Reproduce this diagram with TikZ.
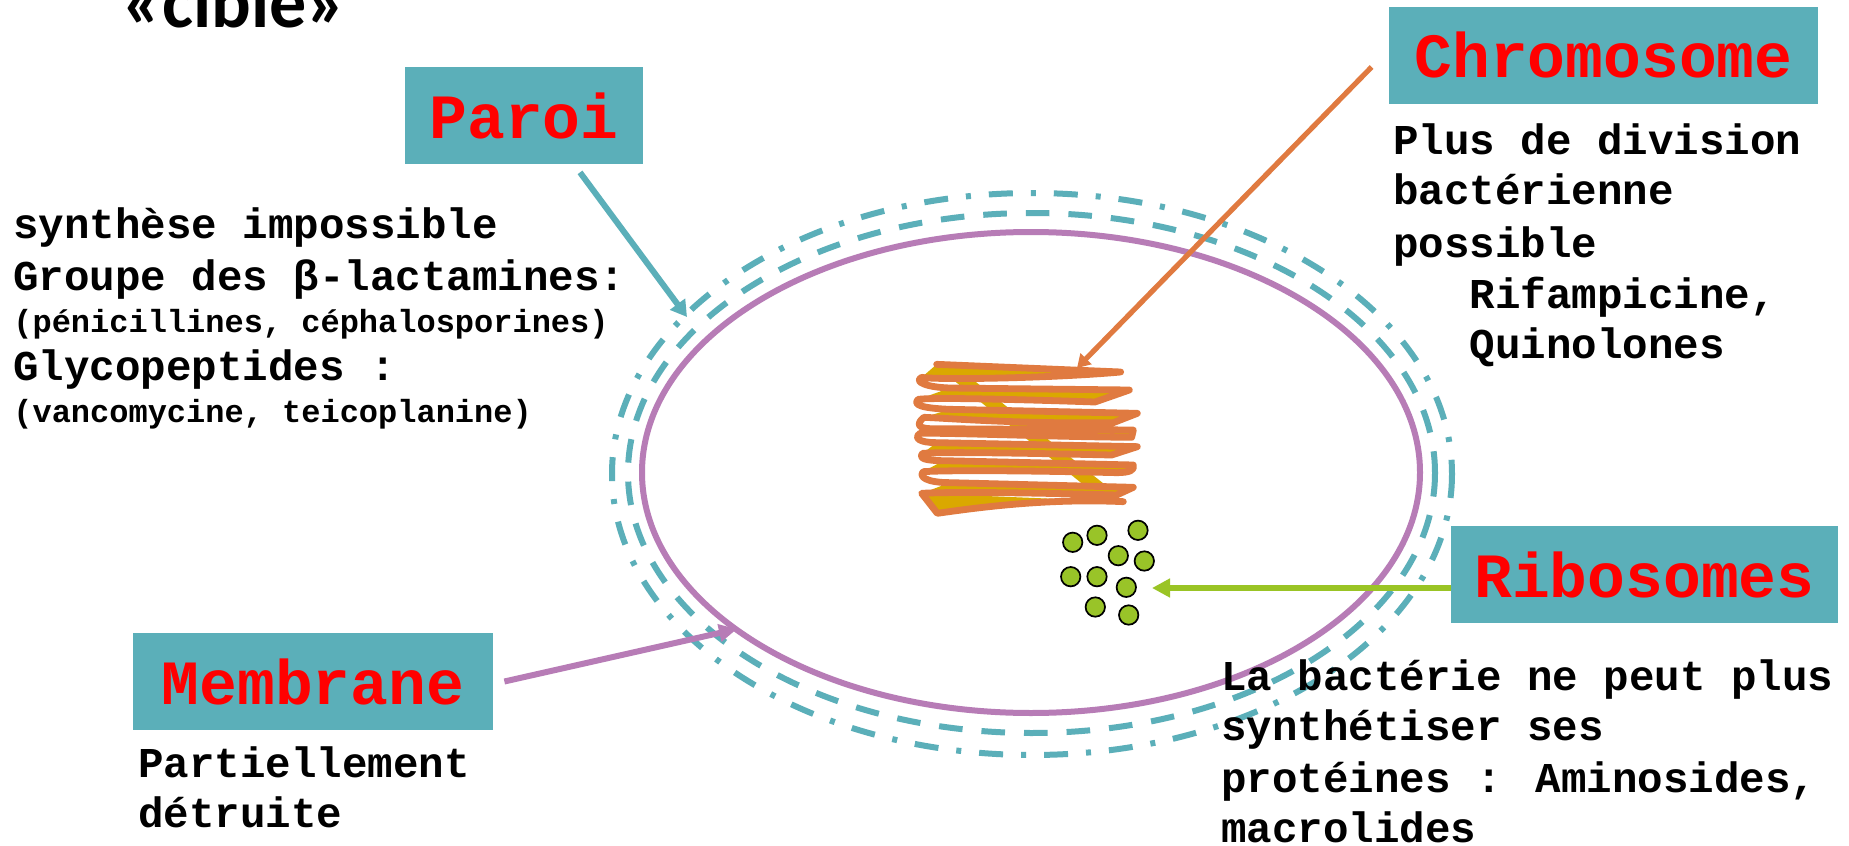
\documentclass[tikz,border=0pt]{standalone}
\usepackage{fontspec}
\usetikzlibrary{arrows.meta}
\newfontfamily\cour{Liberation Mono}
\newfontfamily\calib{Carlito}
\definecolor{teal1}{RGB}{91,175,185}
\definecolor{purp}{RGB}{183,124,182}
\definecolor{orng}{RGB}{224,122,64}
\definecolor{gold1}{RGB}{218,168,0}
\definecolor{grn}{RGB}{153,196,40}
\definecolor{grnarrow}{RGB}{154,196,37}
\begin{document}
\begin{tikzpicture}[x=0.5pt,y=-0.5pt,
  labelbox/.style={fill=teal1, text=red, font=\cour\bfseries\fontsize{31.5pt}{31.5pt}\selectfont, minimum height=48.5pt, inner sep=0pt, anchor=center},
  bodytxt/.style={font=\cour\bfseries\fontsize{21.25pt}{21.25pt}\selectfont, anchor=base west, inner sep=0pt},
  smalltxt/.style={font=\cour\bfseries\fontsize{16pt}{16pt}\selectfont, anchor=base west, inner sep=0pt},
  ribodot/.style={fill=grn, draw=black, line width=0.85pt},
  scrib/.style={draw=orng, line width=3.4pt, line join=round, line cap=round}
]
\useasboundingbox (0,0) rectangle (1849,846);
\clip (0,0) rectangle (1849,846);
\fill[white] (0,0) rectangle (1849,846);

% title (cut at top)
\node[font=\calib\bfseries\fontsize{37pt}{37pt}\selectfont, anchor=base west, inner sep=0pt] (title) at (122,27) {«cible»};

% cell envelopes
\draw[teal1, line width=3pt, dash pattern=on 12pt off 9pt on 2.5pt off 9pt] (1032,474) ellipse [x radius=420, y radius=281];
\draw[teal1, line width=3pt, dash pattern=on 11.8pt off 9.5pt] (1031.5,473) ellipse [x radius=403.5, y radius=260];
\draw[purp, line width=3pt] (1031,472.5) ellipse [x radius=389, y radius=240.5];

% chromosome scribble
\begin{scope}[shift={(850,300)}, scale=1/3]
  \fill[gold1] (260,193) -- (812,216) .. controls (600,235) and (260,240) .. (215,232) -- cycle;
  \fill[gold1] (300,264) -- (838,270) -- (735,306) .. controls (500,298) and (250,292) .. (205,298) -- cycle;
  \fill[gold1] (300,328) -- (862,340) -- (790,368) .. controls (500,372) and (300,355) .. (222,352) -- cycle;
  \fill[gold1] (240,386) -- (850,390) -- (845,412) .. controls (600,410) and (300,398) .. (210,400) -- cycle;
  \fill[gold1] (260,428) -- (862,440) -- (785,465) .. controls (550,460) and (300,455) .. (218,460) -- cycle;
  \fill[gold1] (280,482) -- (850,495) .. controls (855,510) and (840,518) .. (800,518) .. controls (550,512) and (300,510) .. (220,515) -- cycle;
  \fill[gold1] (300,548) -- (850,562) -- (800,585) .. controls (550,578) and (300,575) .. (215,580) -- cycle;
  \fill[gold1] (215,580) -- (262,640) .. controls (400,620) and (600,595) .. (820,605) -- cycle;
  \fill[gold1] (295,228) -- (355,228) -- (800,582) -- (735,582) -- cycle;
  \draw[scrib] (260,193) -- (812,216) .. controls (600,235) and (260,240) .. (215,232)
    .. controls (190,245) and (230,262) .. (300,264) -- (838,270) -- (735,306)
    .. controls (500,298) and (250,292) .. (205,298)
    .. controls (185,315) and (220,325) .. (300,328) -- (862,340) -- (790,368)
    .. controls (500,372) and (300,355) .. (222,352)
    .. controls (205,365) and (195,385) .. (240,386) -- (850,390) -- (845,412)
    .. controls (600,410) and (300,398) .. (210,400)
    .. controls (190,415) and (210,428) .. (260,428) -- (862,440) -- (785,465)
    .. controls (550,460) and (300,455) .. (218,460)
    .. controls (205,475) and (225,482) .. (280,482) -- (850,495)
    .. controls (855,510) and (840,518) .. (800,518)
    .. controls (550,512) and (300,510) .. (220,515)
    .. controls (205,530) and (230,548) .. (300,548) -- (850,562) -- (800,585)
    .. controls (550,578) and (300,575) .. (215,580) -- (262,640)
    .. controls (400,620) and (600,595) .. (820,605);
\end{scope}

% ribosomes
\foreach \px/\py in {1072.7/542.3, 1097/535.3, 1138/530.3, 1118.3/555.7, 1144.3/561,
                     1070.7/576.7, 1097/576.7, 1126.3/587.3, 1095.3/607, 1128.7/615}
  \draw[ribodot] (\px,\py) circle [radius=9.7];

% label boxes
\node[labelbox, minimum width=119pt] (paroi) at (524,115.5) {Paroi};
\node[labelbox, minimum width=214.5pt] (chromo) at (1603.5,55) {Chromosome};
\node[labelbox, minimum width=193.5pt] (ribo) at (1644.5,574.5) {Ribosomes};
\node[labelbox, minimum width=180pt] (memb) at (313,681.5) {Membrane};

% arrow targets
\coordinate (paroiTo) at (687,317);
\coordinate (chromoTo) at (1077,368);
\coordinate (riboTo) at (1152,588);
\coordinate (membTo) at (737,629);

% connectors
\draw[teal1, line width=3pt, -{Triangle[length=8pt,width=9pt]}] ([xshift=28pt,yshift=-4pt]paroi.south) -- (paroiTo);
\draw[orng, line width=2.6pt, -{Triangle[length=6.5pt,width=7.5pt]}] ([xshift=-8.5pt,yshift=-6pt]chromo.west) -- (chromoTo);
\draw[grnarrow, line width=2.7pt, -{Triangle[length=9pt,width=9pt]}] ([yshift=-6.75pt]ribo.west) -- (riboTo);
\draw[purp, line width=3pt, -{Triangle[length=9pt,width=8.5pt]}] ([xshift=5.5pt]memb.east) -- (membTo);

% left text (Paroi)
\node[bodytxt] (p1) at (13,238) {synthèse impossible};
\node[bodytxt] (p2) at (13,290) {Groupe des β-lactamines:};
\node[smalltxt] (p3) at (13,332) {(pénicillines, céphalosporines)};
\node[bodytxt] (p4) at (13,380) {Glycopeptides :};
\node[smalltxt] (p5) at (13,422) {(vancomycine, teicoplanine)};

% chromosome text
\node[bodytxt] (c1) at (1393,154) {Plus de division};
\node[bodytxt] (c2) at (1393,204) {bactérienne};
\node[bodytxt] (c3) at (1393,257) {possible};
\node[bodytxt] (c4) at (1469.5,308) {Rifampicine,};
\node[bodytxt] (c5) at (1469.5,358) {Quinolones};

% membrane text
\node[bodytxt] (m1) at (138,777) {Partiellement};
\node[bodytxt] (m2) at (138,827) {détruite};

% ribosomes text
\node[bodytxt] (r1) at (1221,690) {La bactérie ne peut plus};
\node[bodytxt] (r2) at (1221,740) {synthétiser ses};
\node[bodytxt] (r3) at (1221,792) {protéines : Aminosides,};
\node[bodytxt] (r4) at (1221,842) {macrolides};
\end{tikzpicture}
\end{document}
